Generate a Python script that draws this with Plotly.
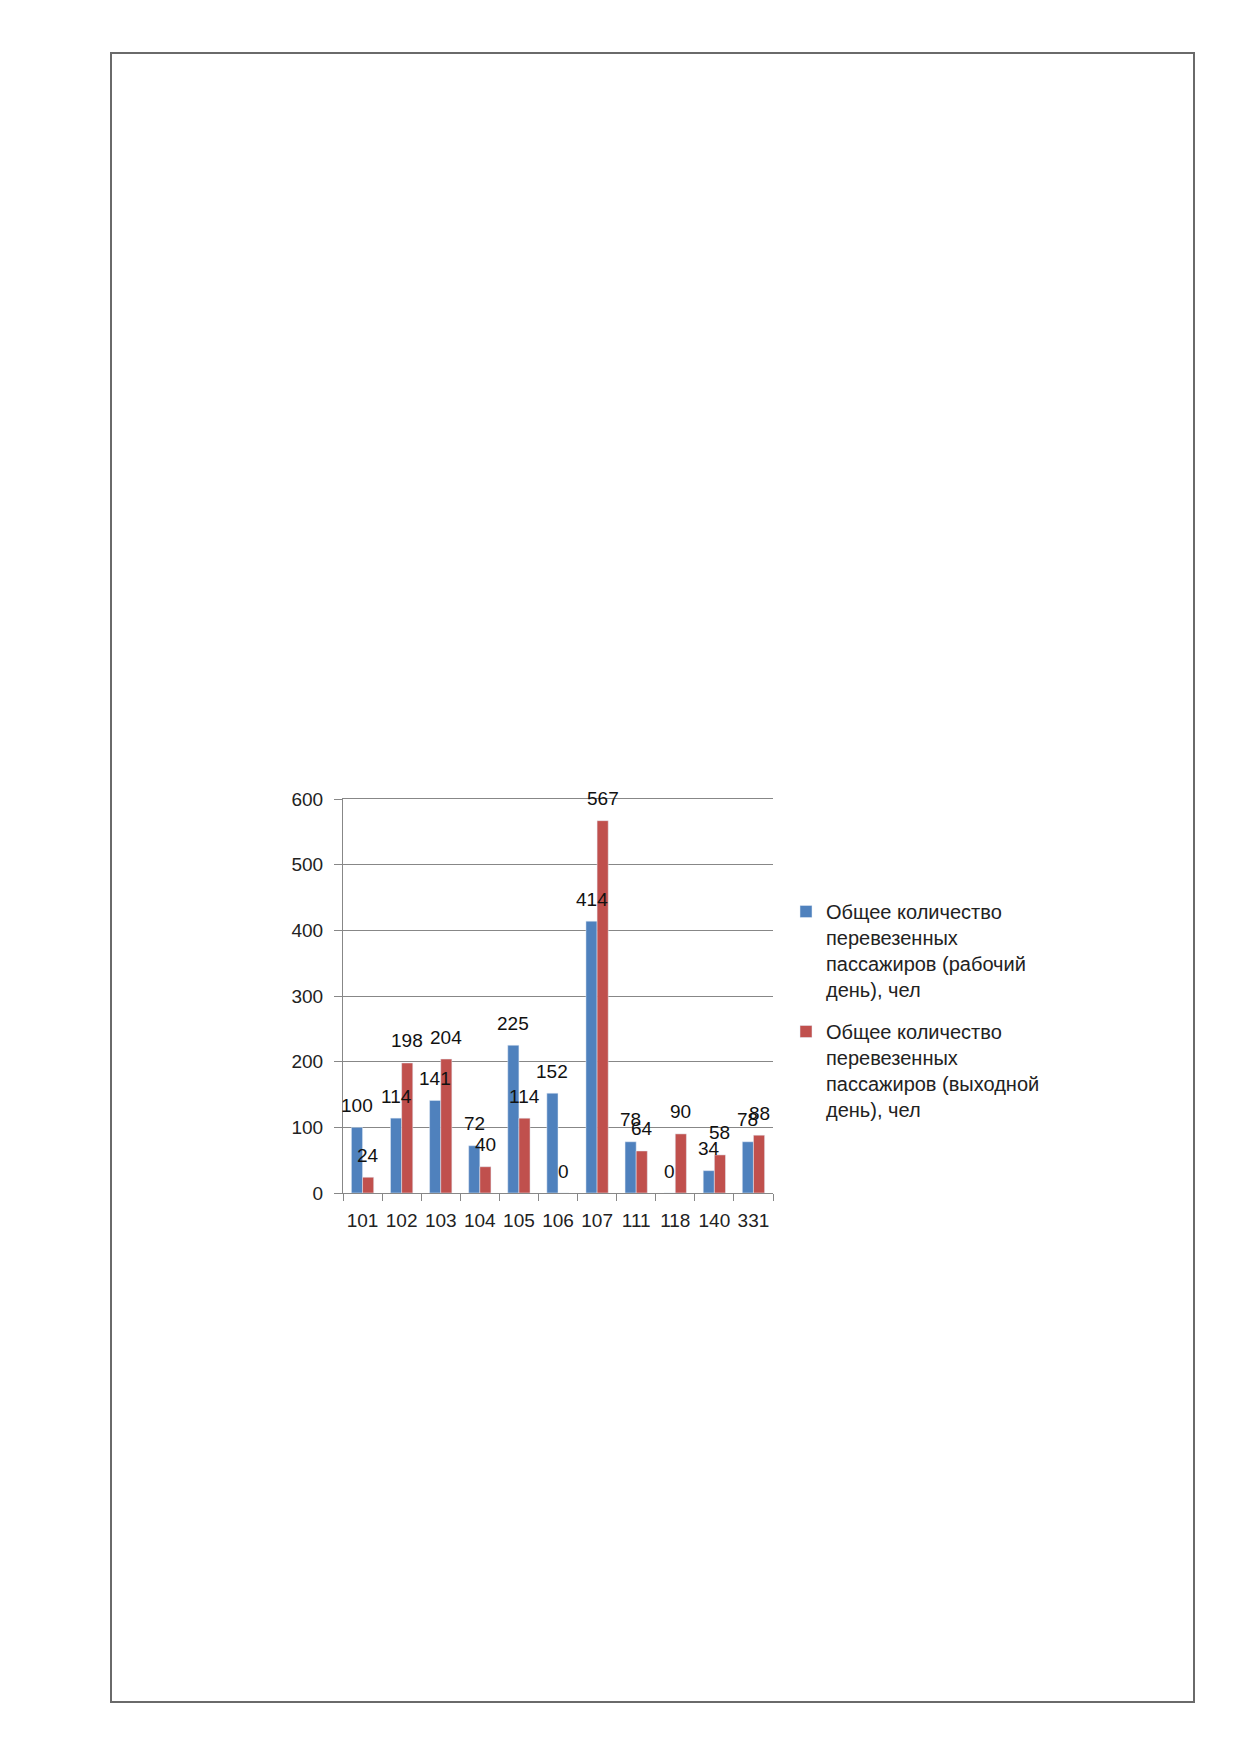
import plotly.graph_objects as go

W, H = 1239, 1752

routes = ["101", "102", "103", "104", "105", "106", "107", "111", "118", "140", "331"]
workday = [100, 114, 141, 72, 225, 152, 414, 78, 0, 34, 78]
weekend = [24, 198, 204, 40, 114, 0, 567, 64, 90, 58, 88]

name_work = "Общее количество<br>перевезенных<br>пассажиров (рабочий<br>день), чел"
name_week = "Общее количество<br>перевезенных<br>пассажиров (выходной<br>день), чел"

blue = "#4F81BD"
red = "#C0504D"
grid = "#878787"
font = "Liberation Sans"

# plot area in page pixels (page body adds an 8px offset)
px_l, px_r, px_t, px_b = 335, 765, 791, 1185
bargap = 0.43
cat_w = (px_r - px_l) / len(routes)
bar_w = cat_w * (1 - bargap) / 2

fig = go.Figure()
fig.add_trace(go.Bar(x=routes, y=workday, name=name_work, marker_color=blue,
                     legendgroup="a"))
fig.add_trace(go.Bar(x=routes, y=weekend, name=name_week, marker_color=red,
                     legendgroup="b"))

# data labels above each bar
for vals, sh in [(workday, -bar_w / 2), (weekend, bar_w / 2)]:
    for i, v in enumerate(vals):
        fig.add_annotation(x=i, y=v, text=str(v), showarrow=False,
                           xshift=sh, yshift=22, yanchor="middle",
                           font=dict(family=font, size=19, color="#111111"))

# page border
fig.add_shape(type="rect", xref="paper", yref="paper",
              x0=103 / W, x1=1186 / W, y0=1 - 1694 / H, y1=1 - 45 / H,
              line=dict(color="#6a6a6a", width=2), layer="below")

fig.update_layout(
    width=W, height=H,
    margin=dict(l=0, r=0, t=0, b=0),
    paper_bgcolor="white", plot_bgcolor="white",
    barmode="group", bargap=bargap, bargroupgap=0,
    font=dict(family=font, size=19, color="#222222"),
    showlegend=True,
    legend=dict(x=778 / W, y=1 - 884 / H, xanchor="left", yanchor="top",
                traceorder="grouped", tracegroupgap=13, valign="top",
                font=dict(family=font, size=20, color="#222222"),
                bgcolor="rgba(0,0,0,0)"),
)
fig.update_xaxes(domain=[px_l / W, px_r / W], type="category",
                 categoryorder="array", categoryarray=routes,
                 range=[-0.5, len(routes) - 0.5], tickangle=0,
                 showline=True, mirror=True, linecolor=grid, linewidth=1,
                 ticks="outside", tickson="boundaries", ticklen=7, tickcolor=grid,
                 showgrid=False, automargin=False, ticklabelstandoff=10)
fig.update_yaxes(domain=[1 - px_b / H, 1 - px_t / H], range=[0, 600], dtick=100,
                 showline=True, linecolor=grid, linewidth=1,
                 ticks="outside", ticklen=8, tickcolor=grid,
                 showgrid=True, gridcolor=grid, gridwidth=1, zeroline=False,
                 automargin=False, ticklabelstandoff=7)

fig.write_html("out.html")
